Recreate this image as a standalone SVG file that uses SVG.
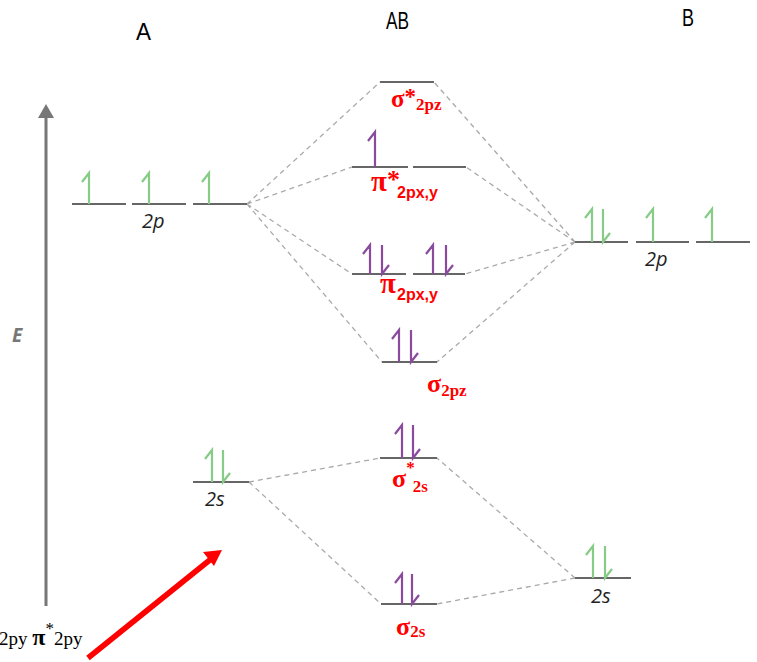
<svg xmlns="http://www.w3.org/2000/svg" width="757" height="662" viewBox="0 0 757 662">
<defs>
<style>
.lvl{stroke:#666;stroke-width:2.2;fill:none}
.dash{stroke:#aaa;stroke-width:1.3;stroke-dasharray:5,4;fill:none}
.g{stroke:#86cc86;stroke-width:2.2;fill:none}
.p{stroke:#8a4a9e;stroke-width:2.2;fill:none}
.col{font-family:"Liberation Sans",Arial,sans-serif;font-size:24px;fill:#000}
.orb{font-family:"Open Sans","Liberation Sans",sans-serif;font-style:italic;font-size:20px;fill:#222}
.red{font-family:"Liberation Serif","Times New Roman",serif;font-weight:bold;fill:#f00}
.reds{font-family:"Liberation Sans",Arial,sans-serif;font-weight:bold;fill:#f00}
.blk{font-family:"Liberation Serif","Times New Roman",serif;fill:#000}
</style>
</defs>
<rect width="757" height="662" fill="#fff"/>

<g id="column-labels">
<text class="col" x="136" y="40" textLength="15" lengthAdjust="spacingAndGlyphs">A</text>
<text class="col" x="386" y="29" textLength="23" lengthAdjust="spacingAndGlyphs">AB</text>
<text class="col" x="682" y="26" textLength="12" lengthAdjust="spacingAndGlyphs">B</text>
</g>

<g id="energy-axis">
<line x1="46" y1="115" x2="46" y2="606" stroke="#777" stroke-width="3"/>
<polygon points="46,104 38,118 54,118" fill="#777"/>
<text x="12" y="342" font-family="Open Sans,Liberation Sans,sans-serif" font-weight="bold" font-style="italic" font-size="19" fill="#777">E</text>
</g>

<g id="connectors">
<path class="dash" d="M247,204 L380,82 M247,204 L352,167 M247,204 L352,274 M247,204 L382,362"/>
<path class="dash" d="M575,242 L434,82 M575,242 L466,167 M575,242 L465,274 M575,242 L437,362"/>
<path class="dash" d="M249,482 L380,458 M249,482 L381,604"/>
<path class="dash" d="M575,578 L437,458 M575,578 L437,604"/>
</g>

<g id="A-2p">
<path class="lvl" d="M72,204 H126 M132,204 H186 M193,204 H247"/>
<path class="g" d="M89,204 V173 l-7,9 M149,204 V173 l-7,9 M209,204 V173 l-7,9"/>
<text class="orb" x="142" y="228">2p</text>
</g>

<g id="A-2s">
<path class="lvl" d="M193,482 H249"/>
<path class="g" d="M212,482 V450 l-7,9 M223,450 V482 l7,-9"/>
<text class="orb" x="205" y="506">2s</text>
</g>

<g id="B-2p">
<path class="lvl" d="M575,242 H628 M636,242 H689 M696,242 H750"/>
<path class="g" d="M592,242 V209 l-7,9 M603,209 V242 l7,-9 M653,242 V209 l-7,9 M712,242 V209 l-7,9"/>
<text class="orb" x="645" y="266">2p</text>
</g>

<g id="B-2s">
<path class="lvl" d="M575,578 H631"/>
<path class="g" d="M593,578 V546 l-7,9 M605,546 V578 l7,-9"/>
<text class="orb" x="591" y="603">2s</text>
</g>

<g id="sigma-star-2pz">
<path class="lvl" d="M380,82 H434"/>
<text class="red" x="391" y="107" font-size="25">σ<tspan font-size="23" dy="-3">*</tspan><tspan font-size="17" dy="6">2pz</tspan></text>
</g>

<g id="pi-star-2p">
<path class="lvl" d="M352,167 H408 M413,167 H466"/>
<path class="p" d="M375,167 V132 l-7,9"/>
<text class="red" x="371" y="191" font-size="29">π<tspan font-size="26" dy="-3">*</tspan></text>
<text class="reds" x="397" y="198" font-size="16">2px,y</text>
</g>

<g id="pi-2p">
<path class="lvl" d="M352,274 H406 M413,274 H465"/>
<path class="p" d="M370,274 V245 l-7,9 M382,245 V274 l7,-9 M433,274 V245 l-7,9 M446,245 V274 l7,-9"/>
<text class="red" x="380" y="293" font-size="29">π</text>
<text class="reds" x="397" y="300" font-size="16">2px,y</text>
</g>

<g id="sigma-2pz">
<path class="lvl" d="M382,362 H437"/>
<path class="p" d="M399,362 V330 l-7,9 M411,330 V362 l7,-9"/>
<text class="red" x="427" y="392" font-size="26">σ<tspan font-size="17" dy="4">2pz</tspan></text>
</g>

<g id="sigma-star-2s">
<path class="lvl" d="M380,458 H437"/>
<path class="p" d="M402,458 V425 l-7,9 M413,425 V458 l7,-9"/>
<text class="red" x="392" y="487" font-size="26">σ<tspan font-size="17" dy="-14">*</tspan><tspan font-size="17" dx="-2" dy="19">2s</tspan></text>
</g>

<g id="sigma-2s">
<path class="lvl" d="M381,604 H437"/>
<path class="p" d="M402,604 V574 l-7,9 M412,574 V604 l7,-9"/>
<text class="red" x="396" y="635" font-size="26">σ<tspan font-size="17" dy="2">2s</tspan></text>
</g>

<g id="bottom-text">
<text class="blk" x="-1" y="645" font-size="19">2py <tspan font-weight="bold" font-size="24">π</tspan><tspan font-size="17" dy="-11">*</tspan><tspan font-size="19" dy="11">2py</tspan></text>
</g>

<g id="red-arrow">
<line x1="88" y1="658" x2="211" y2="559" stroke="#f00" stroke-width="5.5"/>
<polygon points="222,550 203,552 214,566" fill="#f00"/>
</g>
</svg>
